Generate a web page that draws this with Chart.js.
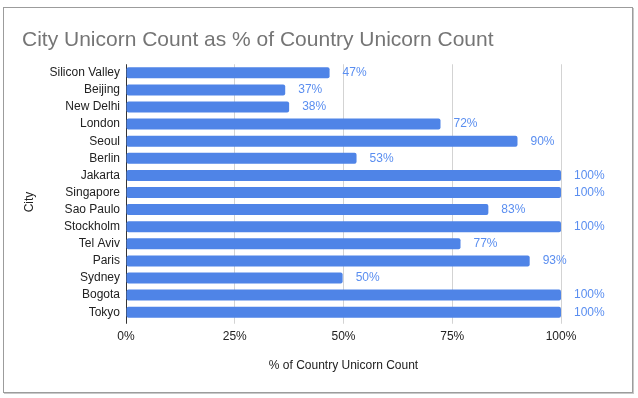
<!DOCTYPE html>
<html>
<head>
<meta charset="utf-8">
<script src="https://cdn.jsdelivr.net/npm/chart.js@4"></script>
<style>
    html, body { margin: 0; padding: 0; background: #ffffff; }
    #wrap { position: relative; width: 638px; height: 398px; }
    #frame {
        position: absolute; left: 3px; top: 7px; width: 628px; height: 384px;
        border: 1px solid #9c9c9c; box-shadow: 1px 1px 0 #c8c8c8;
    }
    #chart { position: absolute; left: 0; top: 0; }
</style>
</head>
<body>
<div id="wrap">
    <div id="frame"></div>
    <canvas id="chart" width="638" height="398"></canvas>
</div>
<script>
const cities = ['Silicon Valley', 'Beijing', 'New Delhi', 'London', 'Seoul', 'Berlin', 'Jakarta',
    'Singapore', 'Sao Paulo', 'Stockholm', 'Tel Aviv', 'Paris', 'Sydney', 'Bogota', 'Tokyo'];
const shares = [46.8, 36.6, 37.5, 72.3, 90.0, 53.0, 100, 100, 83.3, 100, 76.9, 92.8, 49.8, 100, 100];
const xTicks = [0, 25, 50, 75, 100];

const barColor = '#4f84e7';
const labelColor = '#5a8ef0';
const fontFamily = 'Arial, "Liberation Sans", sans-serif';

// value labels to the right of each bar
const barLabels = {
    id: 'barLabels',
    afterDatasetsDraw: function(chart) {
        const ctx = chart.ctx;
        const meta = chart.getDatasetMeta(0);
        ctx.save();
        ctx.font = '12px ' + fontFamily;
        ctx.fillStyle = labelColor;
        ctx.textAlign = 'left';
        ctx.textBaseline = 'middle';
        meta.data.forEach(function(bar, i) {
            ctx.fillText(Math.round(shares[i]) + '%', bar.x + 13, bar.y);
        });
        ctx.restore();
    }
};

// rotated y axis title, placed like the original
const yTitle = {
    id: 'yTitle',
    afterDraw: function(chart) {
        const ctx = chart.ctx;
        ctx.save();
        ctx.translate(30, 202);
        ctx.rotate(-Math.PI / 2);
        ctx.font = '12px ' + fontFamily;
        ctx.fillStyle = '#222222';
        ctx.textAlign = 'center';
        ctx.textBaseline = 'middle';
        ctx.fillText('City', 0, 0);
        ctx.restore();
    }
};

new Chart(document.getElementById('chart'), {
    type: 'bar',
    data: {
        labels: cities,
        datasets: [{
            data: shares,
            backgroundColor: barColor,
            borderRadius: 2,
            borderSkipped: false,
            categoryPercentage: 1,
            barPercentage: 0.645
        }]
    },
    options: {
        indexAxis: 'y',
        responsive: false,
        animation: false,
        layout: { padding: { left: 22, right: 77, top: 0, bottom: 0 } },
        scales: {
            x: {
                min: 0,
                max: 100,
                afterBuildTicks: function(scale) {
                    scale.ticks = xTicks.map(v => ({ value: v }));
                },
                afterFit: function(scale) { scale.height = 77.25; },
                grid: {
                    color: ctx => (ctx.tick && ctx.tick.value === 0) ? '#333333' : '#d3d3d3',
                    tickLength: 3,
                    lineWidth: 1
                },
                border: { display: false },
                ticks: {
                    padding: 6,
                    color: '#222222',
                    font: { family: fontFamily, size: 12 },
                    callback: v => v + '%'
                },
                title: {
                    display: true,
                    text: '% of Country Unicorn Count',
                    color: '#222222',
                    font: { family: fontFamily, size: 12 },
                    padding: { top: 4, bottom: 25 }
                }
            },
            y: {
                afterFit: function(scale) { scale.width = 104; },
                grid: { display: false, drawTicks: false },
                border: { display: false },
                ticks: {
                    padding: 6,
                    color: '#222222',
                    autoSkip: false,
                    font: { family: fontFamily, size: 12 }
                }
            }
        },
        plugins: {
            legend: { display: false },
            tooltip: { enabled: false },
            title: {
                display: true,
                text: 'City Unicorn Count as % of Country Unicorn Count',
                align: 'start',
                color: '#757575',
                font: { family: fontFamily, size: 21, weight: 'normal' },
                padding: { top: 27.5, bottom: 11.55 }
            }
        }
    },
    plugins: [barLabels, yTitle]
});
</script>
</body>
</html>
